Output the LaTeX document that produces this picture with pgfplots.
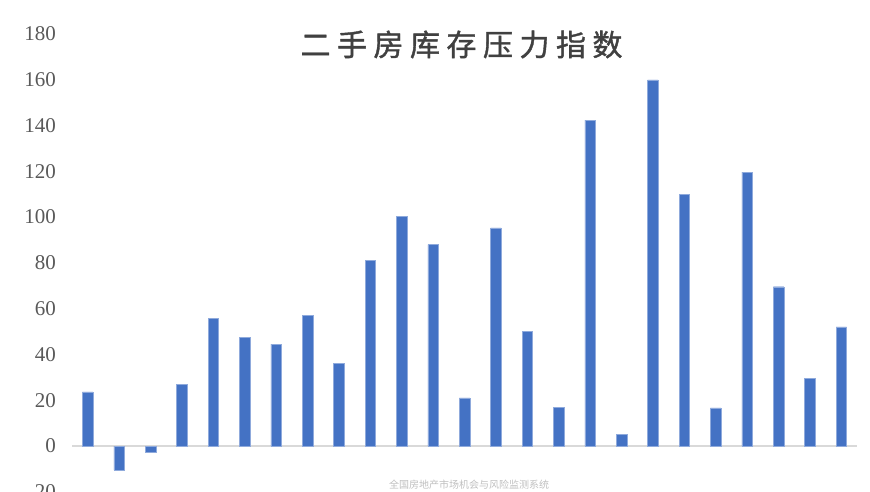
\documentclass[border=0pt]{standalone}
\usepackage{fontspec}
\setmainfont{Liberation Serif}
\newfontfamily\cjk{Noto Sans CJK SC}
\newfontfamily\cjktitle{Noto Sans CJK SC}[FakeBold=1.3]
\usepackage{pgfplots}
\pgfplotsset{compat=1.18}

\definecolor{barblue}{HTML}{4472C4}
\definecolor{baredge}{HTML}{8FAADC}
\definecolor{ticktext}{HTML}{595959}
\definecolor{titletext}{HTML}{404040}
\definecolor{zeroline}{HTML}{D9D9D9}
\definecolor{foot}{HTML}{BFBFBF}

\begin{document}
\begin{tikzpicture}
\useasboundingbox (0,0) rectangle (870pt,492pt);

\begin{axis}[
  at={(72pt,0.2pt)}, anchor=south west,
  scale only axis,
  width=785pt, height=457.8pt,
  xmin=0.5, xmax=25.5,
  ymin=-20, ymax=180,
  ytick={-20,0,20,...,180},
  xtick=\empty,
  axis line style={draw=none},
  major tick length=0pt,
  /pgf/number format/assume math mode=true,
  yticklabel style={font=\fontsize{21}{21}\selectfont, text=ticktext,
    anchor=east, inner sep=0pt, xshift=-16pt},
  ybar, bar width=10.5pt,
  clip=false,
]
\draw[zeroline, line width=2pt] (axis cs:0.5,0) -- (axis cs:25.5,0);
\addplot[fill=barblue, draw=baredge, line width=0.4pt] coordinates {
  (1,23.6) (2,-10.5) (3,-2.9) (4,27) (5,55.7) (6,47.6) (7,44.5) (8,57)
  (9,36) (10,81) (11,100.2) (12,88) (13,21) (14,95.3) (15,50) (16,17)
  (17,142.4) (18,5.2) (19,160) (20,110) (21,16.7) (22,119.7) (23,69.6)
  (24,29.7) (25,52.1)
};
\end{axis}

\node[text=titletext, font=\cjktitle\fontsize{30}{30}\selectfont, inner sep=0pt]
  at (461.5pt,447.5pt)
  {二\kern6.5pt 手\kern6.5pt 房\kern6.5pt 库\kern6.5pt 存\kern6.5pt 压\kern6.5pt 力\kern6.5pt 指\kern6.5pt 数};
\node[text=foot, font=\cjk\fontsize{10}{10}\selectfont, inner sep=0pt]
  at (469pt,7pt) {全国房地产市场机会与风险监测系统};
\end{tikzpicture}
\end{document}
